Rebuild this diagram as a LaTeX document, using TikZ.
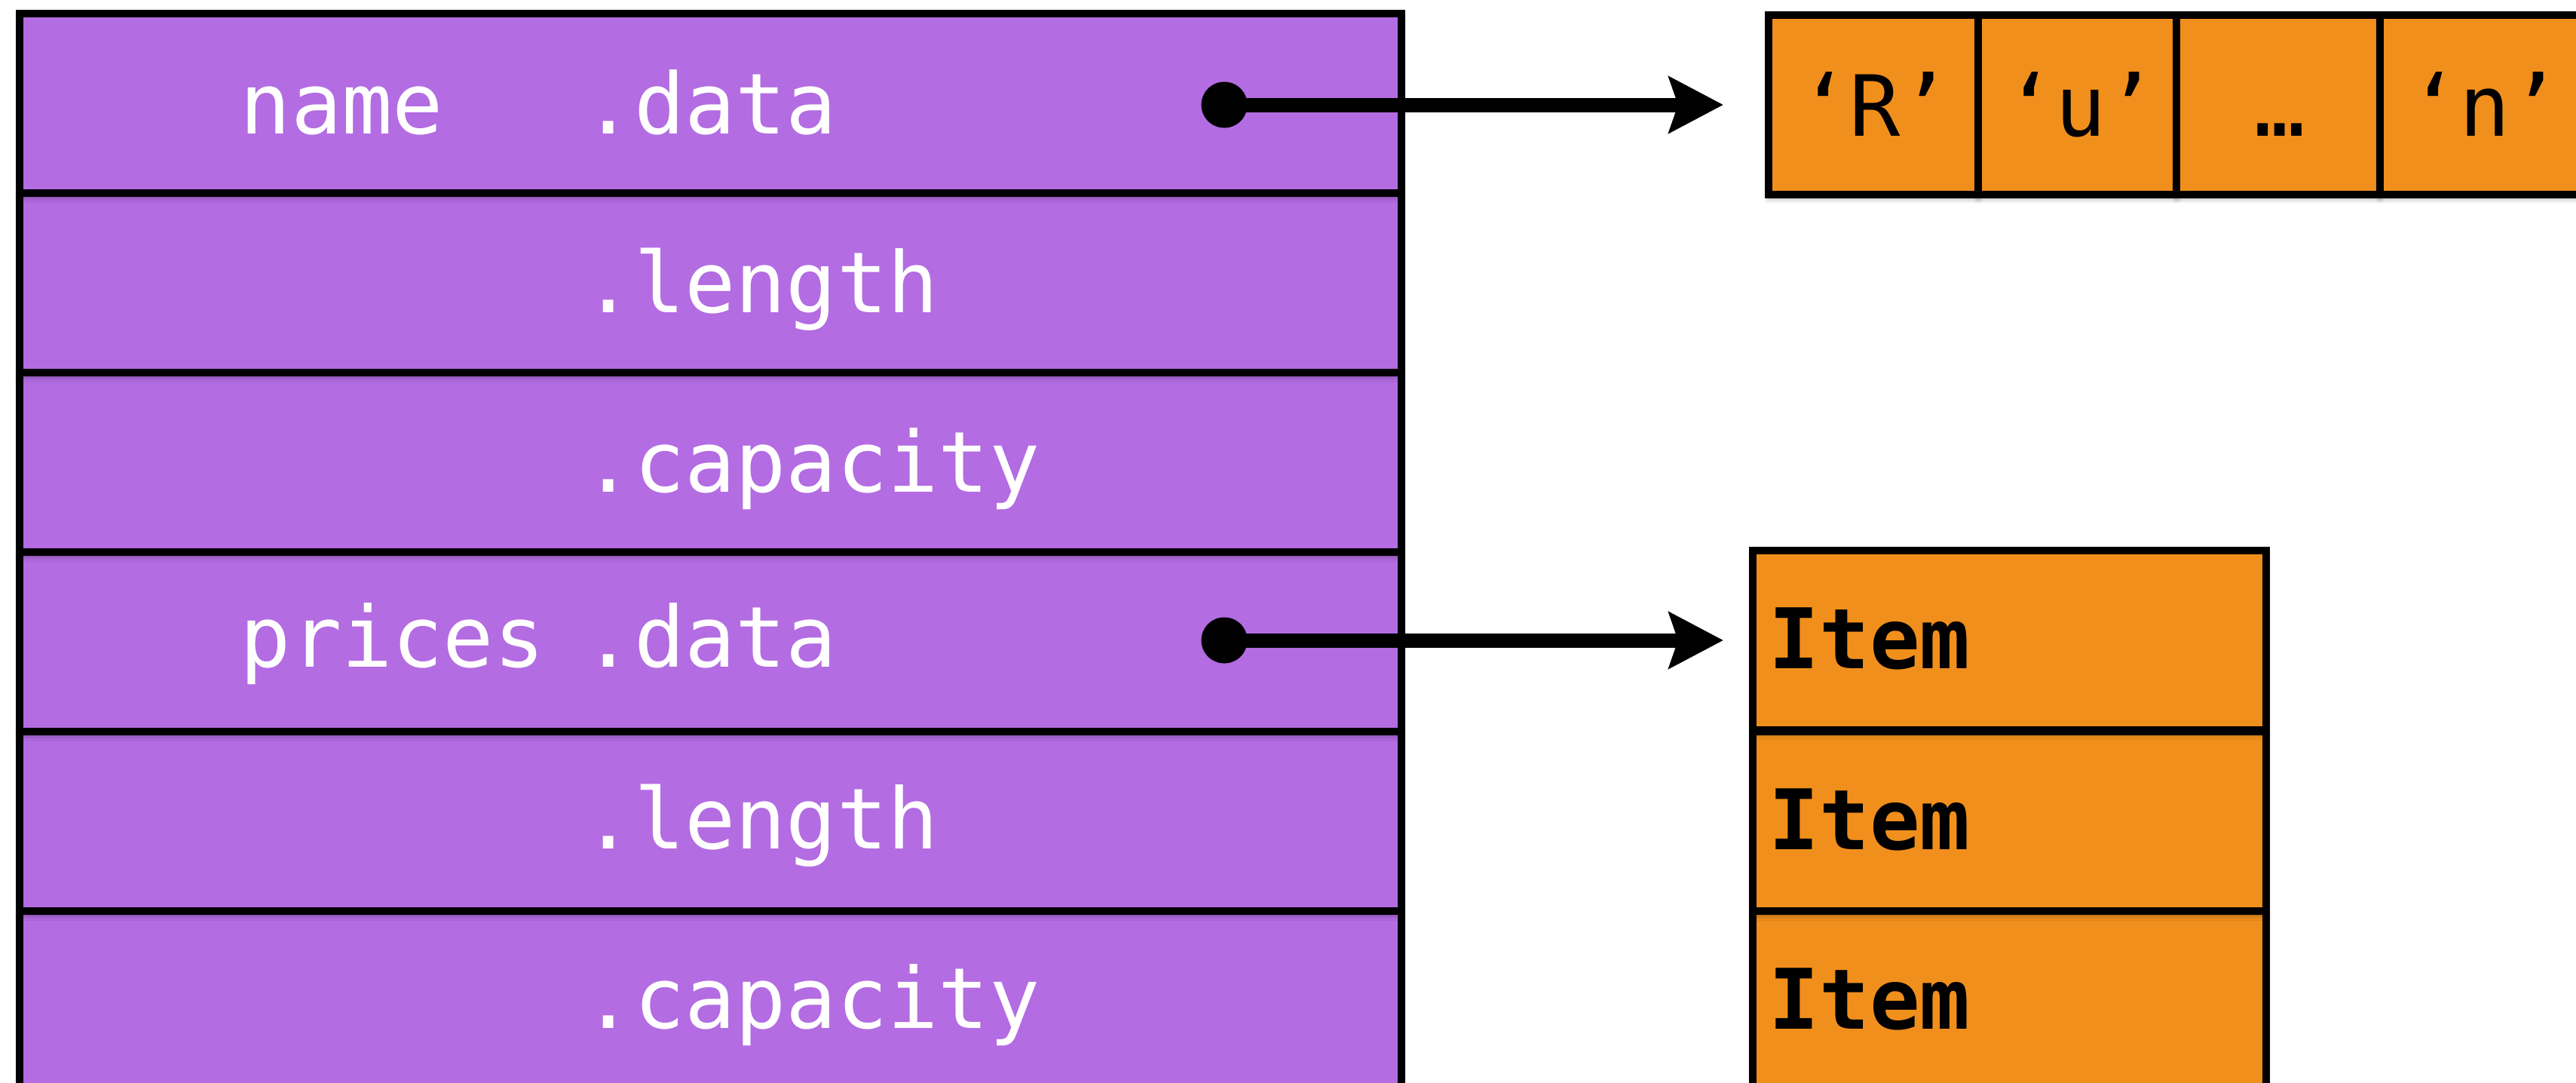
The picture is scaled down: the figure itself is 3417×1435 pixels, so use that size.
\documentclass[tikz,border=0pt]{standalone}
\usepackage{fontspec}
\newfontfamily\codefont{DejaVu Sans Mono}
\usetikzlibrary{arrows.meta,shadows.blur}
\definecolor{fieldpurple}{RGB}{179,108,226}
\definecolor{heaporange}{RGB}{241,143,28}
\tikzset{
  softshadow/.style={blur shadow={shadow xshift=0cm, shadow yshift=-0.05cm, shadow blur radius=0.07cm, shadow opacity=40}},
  boxbase/.style={draw=black, line width=0.1cm, inner sep=0pt, outer sep=0pt, anchor=north west, minimum height=2.38cm, softshadow},
  rowbox/.style={boxbase, fill=fieldpurple, minimum width=18.32cm},
  charbox/.style={boxbase, fill=heaporange},
  itembox/.style={boxbase, fill=heaporange, minimum width=6.81cm},
  fieldtext/.style={font=\codefont\fontsize{31.8}{36}\selectfont, text=white, inner sep=0pt, anchor=base west},
  chartext/.style={font=\codefont\fontsize{31.8}{36}\selectfont, text=black, inner sep=0pt, anchor=base},
  itemtext/.style={font=\codefont\bfseries\fontsize{31.5}{36}\selectfont, text=black, inner sep=0pt, anchor=base west},
  pointerdot/.style={circle, fill=black, inner sep=0pt, outer sep=0pt, minimum size=0.61cm},
  ptr/.style={line width=0.19cm, -{Stealth[length=0.72cm,width=0.74cm,inset=0.12cm]}}
}
\begin{document}
\begin{tikzpicture}[x=0.01cm,y=-0.01cm]
\useasboundingbox (0,0) rectangle (3417,1435);
\clip (0,0) rectangle (3417,1435);
% struct rows (drawn bottom-up so shadows fall on the row below)
\node[rowbox] (r6) at (26,1208) {};
\node[rowbox] (r5) at (26,970) {};
\node[rowbox] (r4) at (26,732) {};
\node[rowbox] (r3) at (26,494) {};
\node[rowbox] (r2) at (26,256) {};
\node[rowbox] (r1) at (26,18) {};
% field labels
\node[fieldtext] (n1) at (318,177) {name};
\node[fieldtext] (f1) at (773,177) {.data};
\node[fieldtext] (f2) at (773,414) {.length};
\node[fieldtext] (f3) at (773,652) {.capacity};
\node[fieldtext] (n4) at (318,884) {prices};
\node[fieldtext] (f4) at (773,884) {.data};
\node[fieldtext] (f5) at (773,1125) {.length};
\node[fieldtext] (f6) at (773,1363) {.capacity};
% character array
\node[charbox, minimum width=2.78cm] (c1) at (2346,20) {};
\node[charbox, minimum width=2.63cm] (c2) at (2624,20) {};
\node[charbox, minimum width=2.70cm] (c3) at (2887,20) {};
\node[charbox, minimum width=2.70cm] (c4) at (3157,20) {};
\node[chartext] (t1) at (2487,180) {‘R’};
\node[chartext] (t2) at (2760,180) {‘u’};
\node[chartext] (t3) at (3024,180) {…};
\node[chartext] (t4) at (3296,180) {‘n’};
% item array
\node[itembox] (i3) at (2325,1208) {};
\node[itembox] (i2) at (2325,970) {};
\node[itembox] (i1) at (2325,730) {};
\node[itemtext] (it1) at (2346,886) {Item};
\node[itemtext] (it2) at (2346,1126) {Item};
\node[itemtext] (it3) at (2346,1364) {Item};
% pointers
\node[pointerdot] (d1) at (1624,139) {};
\node[pointerdot] (d2) at (1624,849) {};
\coordinate (tip1) at (2286,139);
\coordinate (tip2) at (2286,849);
\draw[ptr] (d1.center) -- (tip1);
\draw[ptr] (d2.center) -- (tip2);
\end{tikzpicture}
\end{document}
